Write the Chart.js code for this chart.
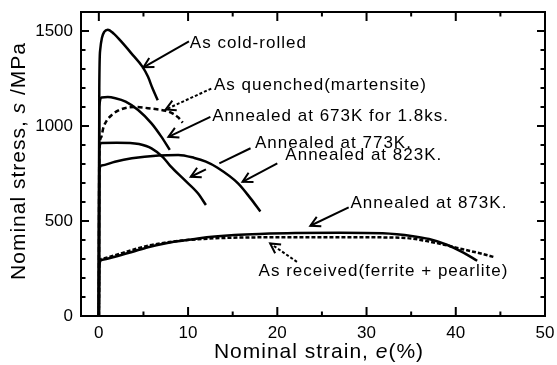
<!DOCTYPE html>
<html lang="en">
<head>
<meta charset="UTF-8">
<title>Nominal stress-strain curves</title>
<script src="https://cdn.jsdelivr.net/npm/chart.js"></script>
<style>
    body { margin: 0; background: #fff; }
    #chart { display: block; }
</style>
</head>
<body>
<canvas id="chart" width="557" height="365"></canvas>
<script>
    // strain (%) / stress (MPa) for each specimen
    const coldRolledX = [0, 0.05, 0.15, 0.35, 0.6, 1.0, 1.7, 2.5, 3.6, 4.9, 5.5, 6.0, 6.6];
    const coldRolledY = [0, 1200, 1400, 1465, 1495, 1507, 1485, 1445, 1385, 1311, 1260, 1200, 1136];

    const quenchedX = [0, 0.05, 0.25, 0.5, 0.9, 1.5, 2.2, 3.0, 4.0, 5.5, 6.5, 7.5, 8.3, 8.9, 9.4];
    const quenchedY = [0, 850, 940, 990, 1030, 1060, 1082, 1095, 1100, 1094, 1088, 1080, 1065, 1045, 1018];

    const k673X = [0, 0.05, 0.3, 1.0, 1.85, 3.0, 4.4, 5.9, 7.0, 7.95];
    const k673Y = [0, 1100, 1150, 1152, 1146, 1128, 1084, 1014, 944, 874];

    const k773X = [0, 0.05, 0.3, 2.0, 3.5, 4.5, 5.9, 7.2, 8.0, 9.6, 11.1, 12.0];
    const k773Y = [0, 880, 910, 912, 911, 905, 882, 835, 790, 716, 646, 584];

    const k823X = [0, 0.05, 0.3, 1.8, 3.7, 6.7, 8.9, 10.7, 12.0, 13.3, 15.6, 17.0, 18.1];
    const k823Y = [0, 760, 792, 812, 830, 845, 848, 832, 812, 780, 698, 619, 550];

    const k873X = [0, 0.05, 0.3, 1.8, 3.7, 5.5, 7.4, 9.3, 11.1, 13, 15.2, 18, 22, 27, 31.8, 35.2, 37, 39, 40.8, 42.4];
    const k873Y = [0, 265, 295, 312, 337, 362, 382, 396, 408, 418, 426, 432, 437, 438, 435, 420, 405, 375, 335, 291];

    const receivedX = [0, 0.05, 0.3, 1.8, 3.7, 5.5, 7.4, 9.3, 11.1, 13, 16, 20, 25, 30, 33, 35, 37.1, 39, 40.8, 42.7, 44.4];
    const receivedY = [0, 270, 300, 320, 347, 370, 386, 397, 404, 409, 413, 414, 414, 414, 413, 408, 391, 372, 351, 330, 309];

    const xMajor = [0, 10, 20, 30, 40, 50];
    const yMajor = [0, 500, 1000, 1500];
    const xRange = [-2, 50];
    const yRange = [0, 1600];

    // callouts: text anchor and arrow segments in data units, head on the last point
    const notes = [
        { text: 'As cold-rolled', at: [10.2, 1437], lines: [[10.1, 1446, 5.0, 1309]] },
        { text: 'As quenched(martensite)', at: [12.9, 1215], lines: [[12.6, 1197, 7.5, 1087]], dotted: true },
        { text: 'Annealed at 673K for 1.8ks.', at: [12.7, 1053], lines: [[12.5, 1048, 7.8, 943]] },
        { text: 'Annealed at 773K.', at: [17.5, 908], lines: [[17.0, 883, 13.5, 803], [12.0, 772, 10.3, 733]] },
        { text: 'Annealed at 823K.', at: [20.9, 846], lines: [[20.0, 803, 16.1, 706]] },
        { text: 'Annealed at 873K.', at: [28.2, 593], lines: [[28.0, 572, 23.7, 475]] },
        { text: 'As received(ferrite + pearlite)', at: [17.9, 233], lines: [[22.2, 285, 19.2, 382]], dotted: true }
    ];

    function points(xs, ys) {
        return xs.map((x, i) => ({ x: x, y: ys[i] }));
    }

    function curve(label, xs, ys, dash) {
        return {
            label: label,
            data: points(xs, ys),
            borderColor: '#000',
            borderWidth: 2.5,
            borderDash: dash || [],
            pointRadius: 0,
            cubicInterpolationMode: 'monotone',
            fill: false
        };
    }

    const FONT = '"Liberation Sans", Arial, sans-serif';

    function arrowHead(ctx, x1, y1, x2, y2) {
        const ang = Math.atan2(y2 - y1, x2 - x1);
        const len = 11, spread = 0.5;
        ctx.beginPath();
        ctx.moveTo(x2 - len * Math.cos(ang - spread), y2 - len * Math.sin(ang - spread));
        ctx.lineTo(x2, y2);
        ctx.lineTo(x2 - len * Math.cos(ang + spread), y2 - len * Math.sin(ang + spread));
        ctx.stroke();
    }

    // draws a title made of plain and italic pieces, centred on (0, 0)
    function richText(ctx, parts, size) {
        let total = 0;
        parts.forEach(p => {
            ctx.font = (p.italic ? 'italic ' : '') + size + 'px ' + FONT;
            p.w = ctx.measureText(p.text).width;
            total += p.w;
        });
        let x = -total / 2;
        parts.forEach(p => {
            ctx.font = (p.italic ? 'italic ' : '') + size + 'px ' + FONT;
            ctx.fillText(p.text, x, 0);
            x += p.w;
        });
    }

    // labels with arrows, axis titles and inward tick marks
    const overlay = {
        id: 'overlay',
        afterDraw(chart) {
            const ctx = chart.ctx;
            const sx = chart.scales.x, sy = chart.scales.y;
            ctx.save();
            ctx.strokeStyle = '#000';
            ctx.fillStyle = '#000';
            ctx.letterSpacing = '1px';
            ctx.font = '17px ' + FONT;
            ctx.textBaseline = 'middle';
            ctx.textAlign = 'left';
            notes.forEach(n => {
                ctx.fillText(n.text, sx.getPixelForValue(n.at[0]), sy.getPixelForValue(n.at[1]));
                ctx.lineWidth = 2;
                ctx.setLineDash(n.dotted ? [3, 2] : []);
                let last;
                n.lines.forEach(l => {
                    last = [sx.getPixelForValue(l[0]), sy.getPixelForValue(l[1]),
                            sx.getPixelForValue(l[2]), sy.getPixelForValue(l[3])];
                    ctx.beginPath();
                    ctx.moveTo(last[0], last[1]);
                    ctx.lineTo(last[2], last[3]);
                    ctx.stroke();
                });
                ctx.setLineDash([]);
                arrowHead(ctx, last[0], last[1], last[2], last[3]);
            });

            ctx.textBaseline = 'alphabetic';
            ctx.save();
            ctx.translate(319, 358);
            richText(ctx, [{ text: 'Nominal strain, ' }, { text: 'e', italic: true }, { text: '(%)' }], 21);
            ctx.restore();
            ctx.save();
            ctx.translate(25, 161);
            ctx.rotate(-Math.PI / 2);
            richText(ctx, [{ text: 'Nominal stress, ' }, { text: 's', italic: true }, { text: ' /MPa' }], 21);
            ctx.restore();

            // plot edges taken from the scales' own value-to-pixel mapping
            const left = sx.getPixelForValue(xRange[0]);
            const right = sx.getPixelForValue(xRange[1]);
            const top = sy.getPixelForValue(yRange[1]);
            const bottom = sy.getPixelForValue(yRange[0]);
            ctx.setLineDash([]);
            ctx.lineWidth = 2;
            ctx.beginPath();
            ctx.moveTo(left, top);
            ctx.lineTo(right, top);
            ctx.lineTo(right, bottom);
            ctx.lineTo(left, bottom);
            ctx.closePath();
            ctx.stroke();

            for (let v = 0; v <= 50; v += 5) {
                const len = xMajor.includes(v) ? 9 : 4.5;
                const px = sx.getPixelForValue(v);
                ctx.beginPath();
                ctx.moveTo(px, bottom);
                ctx.lineTo(px, bottom - len);
                ctx.stroke();
                ctx.beginPath();
                ctx.moveTo(px, top);
                ctx.lineTo(px, top + len);
                ctx.stroke();
            }
            for (let v = 0; v <= 1600; v += 100) {
                const len = yMajor.includes(v) ? 8 : 4.5;
                const py = sy.getPixelForValue(v);
                ctx.beginPath();
                ctx.moveTo(left, py);
                ctx.lineTo(left + len, py);
                ctx.stroke();
                ctx.beginPath();
                ctx.moveTo(right, py);
                ctx.lineTo(right - len, py);
                ctx.stroke();
            }
            ctx.restore();
        }
    };

    const edge = { display: true, color: '#000', width: 2 };

    const chart = new Chart(document.getElementById('chart'), {
        type: 'line',
        data: {
            datasets: [
                curve('As cold-rolled', coldRolledX, coldRolledY),
                curve('As quenched(martensite)', quenchedX, quenchedY, [5, 3]),
                curve('Annealed at 673K for 1.8ks.', k673X, k673Y),
                curve('Annealed at 773K.', k773X, k773Y),
                curve('Annealed at 823K.', k823X, k823Y),
                curve('Annealed at 873K.', k873X, k873Y),
                curve('As received(ferrite + pearlite)', receivedX, receivedY, [4, 2])
            ]
        },
        options: {
            responsive: false,
            animation: false,
            layout: { padding: { top: 12, right: 12, left: 0, bottom: 0 } },
            plugins: {
                legend: { display: false },
                tooltip: { enabled: false }
            },
            scales: {
                x: {
                    type: 'linear',
                    min: xRange[0],
                    max: xRange[1],
                    grid: { display: false, drawTicks: false },
                    border: edge,
                    // fixed axis size, no extra room for the end labels
                    afterFit: s => { s.height = 49; s.paddingLeft = 0; s.paddingRight = 0; },
                    ticks: {
                        stepSize: 5,
                        includeBounds: false,
                        autoSkip: false,
                        maxRotation: 0,
                        padding: 7,
                        color: '#000',
                        font: { family: FONT, size: 17 },
                        callback: v => xMajor.includes(v) ? String(v) : ''
                    }
                },
                y: {
                    min: yRange[0],
                    max: yRange[1],
                    grid: { display: false, drawTicks: false },
                    border: edge,
                    afterFit: s => { s.width = 81; s.paddingTop = 0; s.paddingBottom = 0; },
                    ticks: {
                        stepSize: 100,
                        autoSkip: false,
                        padding: 8,
                        color: '#000',
                        font: { family: FONT, size: 17 },
                        callback: v => yMajor.includes(v) ? String(v) : ''
                    }
                },
                // empty top and right axes, only their border lines are shown
                xTop: {
                    type: 'linear',
                    position: 'top',
                    min: xRange[0],
                    max: xRange[1],
                    grid: { display: false, drawTicks: false },
                    border: edge,
                    ticks: { display: false },
                    afterFit: s => { s.height = 0; s.paddingLeft = 0; s.paddingRight = 0; }
                },
                yRight: {
                    type: 'linear',
                    position: 'right',
                    min: yRange[0],
                    max: yRange[1],
                    grid: { display: false, drawTicks: false },
                    border: edge,
                    ticks: { display: false },
                    afterFit: s => { s.width = 0; s.paddingTop = 0; s.paddingBottom = 0; }
                }
            }
        },
        plugins: [overlay]
    });
</script>
</body>
</html>
